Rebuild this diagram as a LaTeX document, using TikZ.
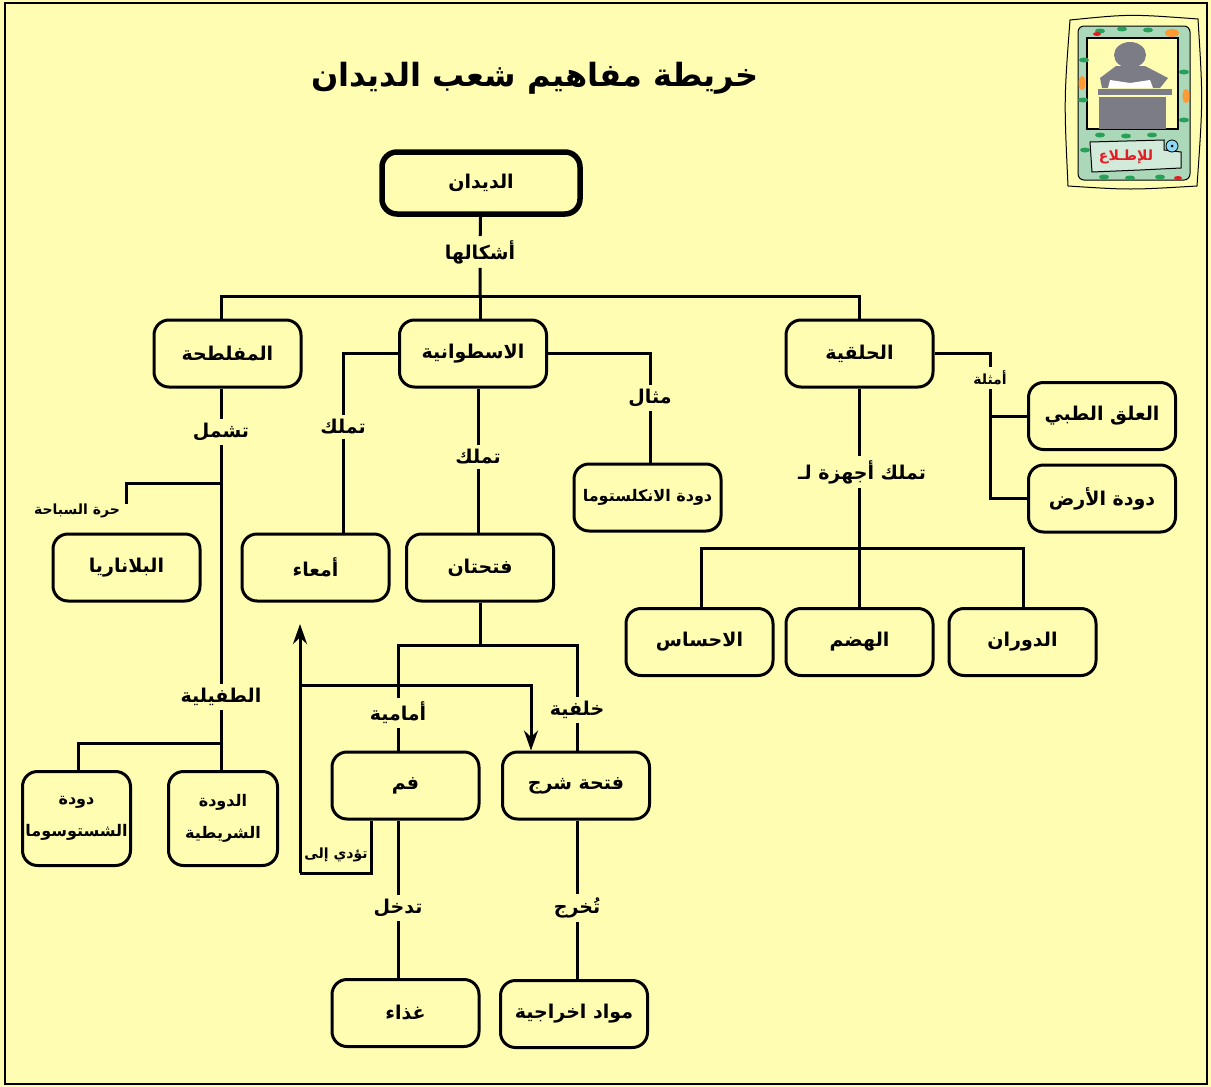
\documentclass[tikz,border=0pt]{standalone}
\usepackage{fontspec}
\usetikzlibrary{arrows.meta}
\TeXXeTstate=1
\newfontfamily\arabicfont[Script=Arabic]{DejaVu Sans}
\newcommand{\ar}[1]{\beginR #1\endR}
\definecolor{paper}{RGB}{255,253,178}
\definecolor{cardgreen}{RGB}{172,216,186}
\definecolor{leafgreen}{RGB}{40,160,90}
\definecolor{figgrey}{RGB}{124,124,134}
\definecolor{bannerred}{RGB}{228,28,36}
\tikzset{
  box/.style={draw, line width=3pt, rounded corners=15pt, minimum width=147pt,
    minimum height=67pt, align=center, inner sep=2pt,
    font=\arabicfont\bfseries\fontsize{19}{32}\selectfont},
  tight box/.style={box, font=\arabicfont\bfseries\fontsize{16}{32}\selectfont},
  lbl/.style={inner sep=4pt, font=\arabicfont\bfseries\fontsize{19}{22}\selectfont},
  small lbl/.style={lbl, font=\arabicfont\bfseries\fontsize{14}{17}\selectfont},
  link/.style={line width=3pt},
  tip/.style={-{Stealth[length=20pt,width=14pt]}},
}

\begin{document}
\begin{tikzpicture}[x=1pt,y=-1pt]
\useasboundingbox (0,0) rectangle (1211,1087);
\fill[paper] (0,0) rectangle (1211,1087);
\draw[line width=2pt] (5,3) rectangle (1207,1084);

\node[font=\arabicfont\bfseries\fontsize{32}{38}\selectfont] (title) at (535,78) {\ar{خريطة مفاهيم شعب الديدان}};

% reading card
\draw[line width=1pt] (1070,20) .. controls (1130,14) .. (1198,19) .. controls (1203,100) .. (1197,186)
  .. controls (1130,190) .. (1068,186) .. controls (1064,100) .. (1070,20) -- cycle;
\draw[line width=1pt, fill=cardgreen, rounded corners=6pt] (1078,26) rectangle (1190,180);
\draw[line width=1.2pt, fill=paper] (1087,38) rectangle (1178,129);
\fill[figgrey] (1130,55) ellipse (16 and 13);
\fill[figgrey] (1100,78) -- (1116,66) -- (1145,66) -- (1168,78) -- (1160,88) -- (1102,88) -- cycle;
\fill[white] (1110,80) -- (1130,83) -- (1150,80) -- (1153,88) -- (1108,88) -- cycle;
\fill[figgrey] (1098,89) rectangle (1172,95);
\fill[figgrey] (1099,97) rectangle (1166,129);
\draw[line width=1pt, fill=cardgreen!55!white] (1090,142) -- (1164,140) -- (1164,150) -- (1181,152)
  -- (1181,168) -- (1140,170) -- (1092,172) -- cycle;
\node[font=\arabicfont\bfseries\fontsize{14}{16}\selectfont, text=bannerred] (card) at (1126,157) {\ar{للإطـلاع}};
\draw[line width=0.8pt, fill=cyan!45] (1172,146) circle (6);
\fill[black] (1172,146) circle (1.5);
\foreach \cx/\cy in {1100/31,1122/29,1148/30,1084/60,1083/100,1184/72,1184/120,1100/135,1126/136,1152/135,1104/177,1130/178,1160/177,1085/150}
  \fill[leafgreen] (\cx,\cy) ellipse (5 and 2.5);
\fill[orange!80] (1172,33) ellipse (7 and 4);
\fill[orange!80] (1082,83) ellipse (3.5 and 7);
\fill[orange!80] (1186,96) ellipse (3.5 and 7);
\fill[bannerred] (1097,34) ellipse (4 and 2);
\fill[bannerred] (1178,178) ellipse (4 and 2);

% concept boxes
\node[box, line width=5.5pt, minimum width=198pt, minimum height=62pt] (worms) at (481,183) {\ar{الديدان}};
\node[box] (flat) at (227.5,353.5) {\ar{المفلطحة}};
\node[box] (round) at (473,353.5) {\ar{الاسطوانية}};
\node[box] (ringed) at (859.5,353.5) {\ar{الحلقية}};
\node[box] (leech) at (1102,416) {\ar{العلق الطبي}};
\node[box] (earthworm) at (1102,498.5) {\ar{دودة الأرض}};
\node[tight box] (hookworm) at (647.5,497.5) {\ar{دودة الانكلستوما}};
\node[box] (senses) at (699.5,642) {\ar{الاحساس}};
\node[box] (digest) at (859.5,642) {\ar{الهضم}};
\node[box] (circul) at (1022.5,642) {\ar{الدوران}};
\node[box] (planaria) at (126.5,567.5) {\ar{البلاناريا}};
\node[box] (gut) at (315.5,567.5) {\ar{أمعاء}};
\node[box] (holes) at (480,567.5) {\ar{فتحتان}};
\node[box] (mouth) at (405.5,785.5) {\ar{فم}};
\node[box] (anus) at (576,785.5) {\ar{فتحة شرج}};
\node[box] (food) at (405.5,1013) {\ar{غذاء}};
\node[box] (waste) at (574,1014) {\ar{مواد اخراجية}};
\node[tight box, minimum width=108pt, minimum height=94pt] (schisto) at (76.5,818.5) {\ar{دودة}\\\ar{الشستوسوما}};
\node[tight box, minimum width=109pt, minimum height=94pt] (tapeworm) at (223,818.5) {\ar{الدودة}\\\ar{الشريطية}};

% link words
\node[lbl] (forms) at (480,252) {\ar{أشكالها}};
\node[lbl] (incl) at (221,432) {\ar{تشمل}};
\node[small lbl] (freeliv) at (77,511) {\ar{حرة السباحة}};
\node[lbl] (parasit) at (221,697) {\ar{الطفيلية}};
\node[lbl] (has1) at (343,427) {\ar{تملك}};
\node[lbl] (has2) at (478,457) {\ar{تملك}};
\node[lbl] (eg) at (650,398) {\ar{مثال}};
\node[small lbl] (egs) at (990,378) {\ar{أمثلة}};
\node[lbl] (systems) at (862,472) {\ar{تملك أجهزة لـ}};
\node[lbl] (front) at (398,713) {\ar{أمامية}};
\node[lbl] (back) at (577,710) {\ar{خلفية}};
\node[lbl] (enters) at (398,908) {\ar{تدخل}};
\node[lbl] (exits) at (577,908) {\ar{تُخرج}};
\node[small lbl] (leads) at (336,855) {\ar{تؤدي إلى}};

% junctions
\coordinate (bar) at (480,296);
\coordinate (barL) at (221,296);
\coordinate (barR) at (859.5,296);
\coordinate (rl) at (343,353.5);
\coordinate (rr) at (650,353.5);
\coordinate (ex1) at (990,353.5);
\coordinate (ex2) at (990,498.5);
\coordinate (sysL) at (701,548);
\coordinate (sysR) at (1023,548);
\coordinate (sysM) at (859.5,548);
\coordinate (fb) at (221,483);
\coordinate (fb2) at (126,483);
\coordinate (fb3) at (126,504);
\coordinate (pb) at (221,743);
\coordinate (pL) at (78,743);
\coordinate (fL) at (398,645);
\coordinate (fR) at (577,645);
\coordinate (a1) at (371,873);
\coordinate (a2) at (300,873);
\coordinate (a3) at (300,624);
\coordinate (a4) at (300,685);
\coordinate (a5) at (531,685);

\draw[link] (worms) -- (forms) -- (bar);
\draw[link] (flat.north -| barL) -- (barL) -- (barR) -- (ringed.north);
\draw[link] (bar) -- (round.north -| bar);
\draw[link] (round.west) -- (rl) -- (has1) -- (gut.north -| rl);
\draw[link] (round.east) -- (rr) -- (eg) -- (hookworm.north -| rr);
\draw[link] (round.south -| has2) -- (has2) -- (holes.north -| has2);
\draw[link] (ringed.east) -- (ex1) -- (egs) -- (ex2) -- (earthworm.west);
\draw[link] (leech.west) -- (leech.west -| ex1);
\draw[link] (ringed.south) -- (ringed.south |- systems.north);
\draw[link] (ringed.south |- systems.south) -- (sysM);
\draw[link] (senses.north -| sysL) -- (sysL) -- (sysR) -- (circul.north -| sysR);
\draw[link] (sysM) -- (digest.north);
\draw[link] (flat.south -| fb) -- (incl) -- (fb) -- (parasit) -- (pb) -- (pL) -- (schisto.north -| pL);
\draw[link] (pb) -- (tapeworm.north -| pb);
\draw[link] (fb) -- (fb2) -- (fb3);
\draw[link] (holes.south) -- (holes.south |- fL);
\draw[link] (mouth.north -| fL) -- (front) -- (fL) -- (fR) -- (back) -- (anus.north -| fR);
\draw[link] (mouth.south -| fL) -- (enters) -- (food.north -| fL);
\draw[link] (anus.south -| fR) -- (exits) -- (waste.north -| fR);
\draw[link] (mouth.south -| a1) -- (a1) -- (a2);
\draw[link, tip] (a2) -- (a3);
\draw[link, tip] (a4) -- (a5) -- (anus.north -| a5);
\end{tikzpicture}
\end{document}
